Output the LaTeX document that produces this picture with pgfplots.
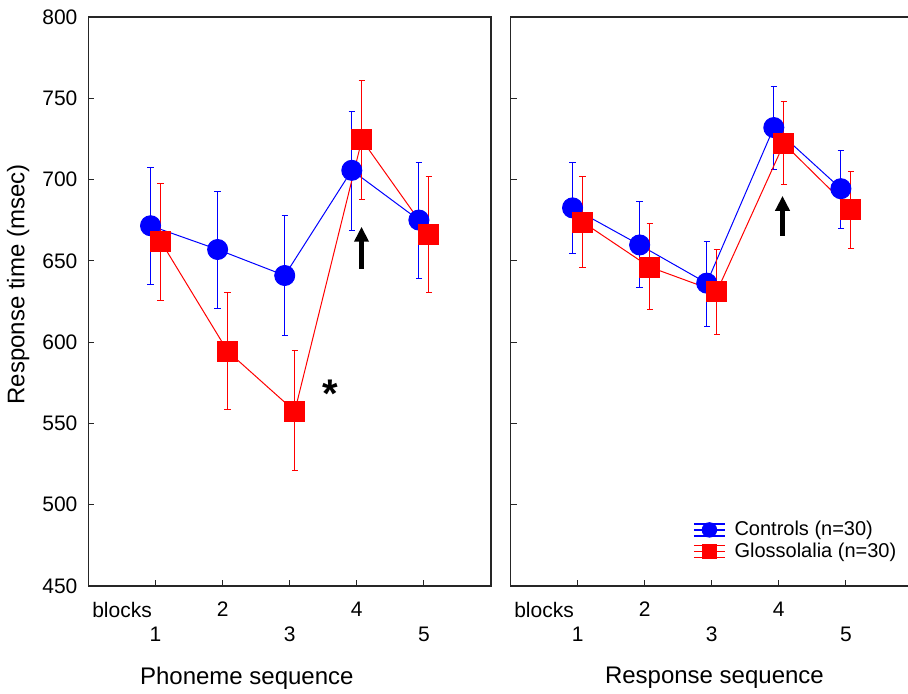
\documentclass[border=0pt]{standalone}
\usepackage{fontspec}
\setmainfont{Liberation Sans}
\usepackage{pgfplots}
\pgfplotsset{compat=1.18}
\usepackage{pgfplotstable}
\usetikzlibrary{arrows.meta}

\newcommand{\tickfont}{\fontsize{10.5}{12}\selectfont}
\newcommand{\labfont}{\fontsize{12}{14}\selectfont}

% Phoneme sequence
\pgfplotstableread{
x y hi lo
0.925 671.6 707.3 635.6
1.925 657.0 692.7 621.0
2.925 641.0 677.9 604.0
3.925 705.7 742.1 668.5
4.925 675.1 710.8 639.1
}\phonC
\pgfplotstableread{
x y hi lo
1.075 662.2 697.6 625.7
2.075 594.4 630.4 558.6
3.075 557.5 594.6 521.0
4.075 724.5 761.0 687.6
5.075 666.4 702.1 630.4
}\phonG
% Response sequence
\pgfplotstableread{
x y hi lo
0.925 682.6 710.6 654.4
1.925 659.8 686.4 633.4
2.925 636.3 662.2 609.7
3.925 732.0 757.2 706.4
4.925 694.4 717.7 670.1
}\respC
\pgfplotstableread{
x y hi lo
1.075 673.9 702.1 645.7
2.075 646.2 672.7 619.8
3.075 631.1 657.0 604.5
4.075 722.1 747.8 696.7
5.075 681.4 705.2 657.4
}\respG

\pgfplotsset{
  panel/.style={
    scale only axis, width=201.25pt, height=284.5pt,
    xmin=0, xmax=6, ymin=450, ymax=800,
    ytick={450,500,...,800},
    tick align=inside, xtick pos=bottom, ytick pos=left,
    major tick length=3pt,
    xtick={2,4}, xticklabels={2,4},
    extra x ticks={1,3,5}, extra x tick labels={1,3,5},
    extra x tick style={tick label style={yshift=-12.5pt}},
    xticklabel style={yshift=-4.5pt},
    yticklabel style={xshift=-2pt},
    tick label style={font=\tickfont},
    /pgf/number format/assume math mode=true,
    axis line style={line width=0.8pt, black!85},
    tick style={line width=0.5pt, black!85},
    clip=false,
  },
  ctrl/.style={blue, line width=0.5pt, mark=*, mark size=5pt,
    mark options={solid, fill=blue, draw=blue},
    legend image code/.code={
      \draw[blue, line width=0.6pt] (0pt,0pt) -- (15.5pt,0pt);
      \draw[blue, line width=0.6pt] (0pt,3pt) -- (15.5pt,3pt);
      \draw[blue, line width=0.6pt] (0pt,-3pt) -- (15.5pt,-3pt);
      \fill[blue] (7.75pt,0pt) circle[radius=3.6pt];
    },
    error bars/.cd, y dir=both, y explicit,
    error bar style={line width=0.5pt, blue},
    error mark options={rotate=90, line width=0.5pt, mark size=1.6pt, blue}},
  glos/.style={red, line width=0.5pt, mark=square*, mark size=5pt,
    mark options={solid, fill=red, draw=red},
    legend image code/.code={
      \draw[red, line width=0.6pt] (0pt,0pt) -- (15.5pt,0pt);
      \draw[red, line width=0.6pt] (0pt,3pt) -- (15.5pt,3pt);
      \draw[red, line width=0.6pt] (0pt,-3pt) -- (15.5pt,-3pt);
      \fill[red] (4.25pt,-3.5pt) rectangle (11.25pt,3.5pt);
    },
    error bars/.cd, y dir=both, y explicit,
    error bar style={line width=0.5pt, red},
    error mark options={rotate=90, line width=0.5pt, mark size=1.6pt, red}},
}

\begin{document}
\begin{tikzpicture}
\useasboundingbox (-44.25pt,-53.5pt) rectangle (409.75pt,293pt);
\clip (-44.25pt,-53.5pt) rectangle (409.75pt,293pt);

\begin{axis}[panel, at={(0pt,0pt)}, anchor=south west]
\addplot[ctrl] table[x=x, y=y, y error plus expr=\thisrow{hi}-\thisrow{y}, y error minus expr=\thisrow{y}-\thisrow{lo}] {\phonC};
\addplot[glos] table[x=x, y=y, y error plus expr=\thisrow{hi}-\thisrow{y}, y error minus expr=\thisrow{y}-\thisrow{lo}] {\phonG};
\draw[-{Triangle[length=7.5pt,width=7pt]}, line width=2.4pt, black] (axis cs:4.07,645) -- (axis cs:4.07,671);
\node[font=\fontsize{20}{20}\bfseries, yshift=-4pt] at (axis cs:3.6,573.4) {*};
\node[anchor=north, font=\tickfont, yshift=-4.5pt] at (axis cs:0.5,450) {blocks};
\node[font=\labfont, yshift=-46pt] at (axis cs:2.36,450) {Phoneme sequence};
\node[font=\labfont, rotate=90] at (axis description cs:-0.175,0.53) {Response time (msec)};
\end{axis}

\begin{axis}[panel, at={(211pt,0pt)}, anchor=south west, yticklabels={},
  legend style={draw=none, fill=none, at={(axis cs:2.63,477.9)}, anchor=west,
    nodes={inner sep=1pt}, column sep=3.5pt, font=\fontsize{10}{12}\selectfont},
  legend cell align=left]
\addplot[ctrl] table[x=x, y=y, y error plus expr=\thisrow{hi}-\thisrow{y}, y error minus expr=\thisrow{y}-\thisrow{lo}] {\respC};
\addlegendentry{Controls (n=30)}
\addplot[glos] table[x=x, y=y, y error plus expr=\thisrow{hi}-\thisrow{y}, y error minus expr=\thisrow{y}-\thisrow{lo}] {\respG};
\addlegendentry{Glossolalia (n=30)}
\draw[-{Triangle[length=7.5pt,width=7pt]}, line width=2.4pt, black] (axis cs:4.055,665.5) -- (axis cs:4.055,690);
\node[anchor=north, font=\tickfont, yshift=-4.5pt] at (axis cs:0.5,450) {blocks};
\node[font=\labfont, yshift=-46pt] at (axis cs:3.04,450) {Response sequence};
\end{axis}
\end{tikzpicture}
\end{document}
